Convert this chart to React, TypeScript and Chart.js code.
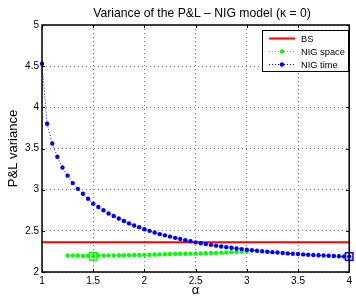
import React, { useEffect, useRef } from "react";
import { Chart, registerables } from "chart.js";
Chart.register(...registerables);

const titleText = "Variance of the P&L \u2013 NIG model (\u03ba = 0)";
const xLabel = "\u03b1";
const yLabel = "P&L variance";
const legendLabels = ["BS", "NIG space", "NIG time"];

const xTicks = [1, 1.5, 2, 2.5, 3, 3.5, 4];
const yTicks = [2, 2.5, 3, 3.5, 4, 4.5, 5];

const alphaTime = [
  1.0, 1.05, 1.1, 1.15, 1.2, 1.25, 1.3, 1.35, 1.4, 1.45, 1.5, 1.55, 1.6, 1.65, 1.7, 1.75,
  1.8, 1.85, 1.9, 1.95, 2.0, 2.05, 2.1, 2.15, 2.2, 2.25, 2.3, 2.35, 2.4, 2.45, 2.5, 2.55,
  2.6, 2.65, 2.7, 2.75, 2.8, 2.85, 2.9, 2.95, 3.0, 3.05, 3.1, 3.15, 3.2, 3.25, 3.3, 3.35,
  3.4, 3.45, 3.5, 3.55, 3.6, 3.65, 3.7, 3.75, 3.8, 3.85, 3.9, 3.95, 4.0,
];
const nigTime = [
  4.53, 3.8, 3.56, 3.4, 3.27, 3.17, 3.08, 3.01, 2.95, 2.89, 2.83, 2.79, 2.75, 2.71, 2.68, 2.65,
  2.62, 2.59, 2.565, 2.545, 2.52, 2.5, 2.48, 2.46, 2.445, 2.43, 2.415, 2.4, 2.385, 2.373, 2.36, 2.35,
  2.34, 2.33, 2.32, 2.31, 2.302, 2.294, 2.286, 2.278, 2.27, 2.264, 2.258, 2.252, 2.246, 2.241, 2.236, 2.231,
  2.226, 2.222, 2.218, 2.214, 2.21, 2.206, 2.203, 2.2, 2.197, 2.194, 2.191, 2.189, 2.187,
];

const alphaSpace = [
  1.25, 1.3, 1.35, 1.4, 1.45, 1.5, 1.55, 1.6, 1.65, 1.7, 1.75, 1.8, 1.85, 1.9, 1.95, 2.0,
  2.05, 2.1, 2.15, 2.2, 2.25, 2.3, 2.35, 2.4, 2.45, 2.5, 2.55, 2.6, 2.65, 2.7, 2.75, 2.8,
  2.85, 2.9, 2.95, 3.0,
];
const nigSpace = [
  2.2, 2.2, 2.2, 2.195, 2.198, 2.192, 2.2, 2.201, 2.202, 2.202, 2.203, 2.204, 2.205, 2.206, 2.207, 2.208,
  2.21, 2.212, 2.214, 2.216, 2.218, 2.22, 2.221, 2.222, 2.223, 2.224, 2.226, 2.228, 2.23, 2.232, 2.235, 2.238,
  2.241, 2.244, 2.247, 2.25,
];

const bsAlpha = [1, 4];
const bsVariance = [2.36, 2.36];

const spaceMinAlpha = [1.5];
const spaceMinValue = [2.192];
const timeMinAlpha = [4.0];
const timeMinValue = [2.187];

const FONT = "'Liberation Sans', Arial, Helvetica, sans-serif";
const RED = "#ff0000";
const GREEN = "#00ff00";
const BLUE = "#0000ff";

const pts = (xs: number[], ys: number[]) => xs.map((x, i) => ({ x, y: ys[i] }));

const framePlugin = {
  id: "frame",
  afterDraw(chart: any) {
    const { ctx, chartArea: a, scales } = chart;
    const x = scales.x;
    const y = scales.y;
    ctx.save();
    // title
    ctx.fillStyle = "#000";
    ctx.font = `12.2px ${FONT}`;
    ctx.textAlign = "center";
    ctx.textBaseline = "middle";
    ctx.fillText(titleText, 202, 14);

    ctx.strokeStyle = "#000";
    ctx.lineWidth = 1;
    ctx.beginPath();
    for (const t of xTicks) {
      const px = Math.round(x.getPixelForValue(t)) + 0.5;
      ctx.moveTo(px, a.bottom);
      ctx.lineTo(px, a.bottom - 3);
      ctx.moveTo(px, a.top);
      ctx.lineTo(px, a.top + 3);
    }
    for (const t of yTicks) {
      const py = Math.round(y.getPixelForValue(t)) + 0.5;
      ctx.moveTo(a.left, py);
      ctx.lineTo(a.left + 3, py);
      ctx.moveTo(a.right, py);
      ctx.lineTo(a.right - 3, py);
    }
    ctx.stroke();
    ctx.lineWidth = 1.5;
    ctx.strokeRect(a.left, a.top, a.right - a.left, a.bottom - a.top);

    // legend
    const lx = 262.5, ly = 30.5, lw = 86, lh = 41;
    ctx.fillStyle = "#fff";
    ctx.fillRect(lx, ly, lw, lh);
    ctx.lineWidth = 1;
    ctx.strokeStyle = "#000";
    ctx.strokeRect(lx, ly, lw, lh);
    const rows = [38.5, 51.5, 64.5];
    const colors = [RED, GREEN, BLUE];
    ctx.font = `9.3px ${FONT}`;
    ctx.textBaseline = "middle";
    ctx.textAlign = "left";
    rows.forEach((ry, i) => {
      ctx.save();
      ctx.strokeStyle = colors[i];
      if (i === 0) {
        ctx.lineWidth = 2;
        ctx.setLineDash([]);
      } else {
        ctx.lineWidth = 1;
        ctx.setLineDash([1, 2]);
      }
      ctx.beginPath();
      ctx.moveTo(269, ry);
      ctx.lineTo(295, ry);
      ctx.stroke();
      if (i > 0) {
        ctx.fillStyle = colors[i];
        ctx.beginPath();
        ctx.arc(282, ry, 2.2, 0, Math.PI * 2);
        ctx.fill();
      }
      ctx.restore();
      ctx.fillStyle = "#000";
      ctx.fillText(legendLabels[i], 301, ry + 0.5);
    });
    ctx.restore();
  },
};

export default function App() {
  const ref = useRef<HTMLCanvasElement | null>(null);
  useEffect(() => {
    if (!ref.current) return;
    const chart = new Chart(ref.current, {
      type: "line",
      data: {
        datasets: [
          {
            label: legendLabels[0],
            data: pts(bsAlpha, bsVariance),
            borderColor: RED,
            borderWidth: 2,
            pointRadius: 0,
            order: 4,
          },
          {
            label: legendLabels[1],
            data: pts(alphaSpace, nigSpace),
            borderColor: GREEN,
            borderWidth: 1,
            borderDash: [1, 2],
            pointRadius: 2.2,
            pointBackgroundColor: GREEN,
            pointBorderWidth: 0,
            order: 3,
          },
          {
            label: legendLabels[2],
            data: pts(alphaTime, nigTime),
            borderColor: BLUE,
            borderWidth: 1,
            borderDash: [1, 2],
            pointRadius: 2.2,
            pointBackgroundColor: BLUE,
            pointBorderWidth: 0,
            order: 2,
          },
          {
            label: "space min",
            data: pts(spaceMinAlpha, spaceMinValue),
            showLine: false,
            pointStyle: "rect",
            pointRadius: 5.3,
            pointBackgroundColor: "rgba(0,0,0,0)",
            pointBorderColor: GREEN,
            pointBorderWidth: 1.5,
            order: 1,
          },
          {
            label: "time min",
            data: pts(timeMinAlpha, timeMinValue),
            showLine: false,
            pointStyle: "rect",
            pointRadius: 5.3,
            pointBackgroundColor: "rgba(0,0,0,0)",
            pointBorderColor: BLUE,
            pointBorderWidth: 1.5,
            order: 1,
          },
        ] as any,
      },
      options: {
        animation: false,
        responsive: false,
        events: [],
        clip: false as any,
        layout: { padding: { left: 0, right: 2, top: 25, bottom: 0 } },
        plugins: {
          legend: { display: false },
          tooltip: { enabled: false },
          title: { display: false },
        },
        scales: {
          x: {
            type: "linear",
            min: 1,
            max: 4,
            afterFit(scale: any) {
              scale.height = 26;
              scale.paddingLeft = 0;
              scale.paddingRight = 0;
            },
            afterBuildTicks(scale: any) {
              scale.ticks = xTicks.map((v) => ({ value: v }));
            },
            ticks: {
              color: "#000",
              font: { family: FONT, size: 10 },
              padding: 3,
              maxRotation: 0,
              autoSkip: false,
              callback: (v: any) => String(v),
            },
            grid: { color: "#777", lineWidth: 1, drawTicks: false },
            border: { display: false, dash: [1, 3] },
            title: {
              display: true,
              text: xLabel,
              color: "#000",
              font: { family: FONT, size: 13 },
              padding: { top: 0, bottom: 0 },
            },
          },
          y: {
            type: "linear",
            min: 2,
            max: 5,
            afterFit(scale: any) {
              scale.width = 42;
              scale.paddingTop = 0;
              scale.paddingBottom = 0;
            },
            afterBuildTicks(scale: any) {
              scale.ticks = yTicks.map((v) => ({ value: v }));
            },
            ticks: {
              color: "#000",
              font: { family: FONT, size: 10 },
              padding: 3,
              autoSkip: false,
              callback: (v: any) => String(v),
            },
            grid: { color: "#777", lineWidth: 1, drawTicks: false },
            border: { display: false, dash: [1, 3] },
            title: {
              display: true,
              text: yLabel,
              color: "#000",
              font: { family: FONT, size: 13 },
              padding: { top: 6, bottom: 0 },
            },
          },
        },
      } as any,
      plugins: [framePlugin],
    });
    return () => chart.destroy();
  }, []);
  return (
    <div style={{ position: "fixed", left: 0, top: 0, width: 356, height: 298, background: "#fff" }}>
      <canvas ref={ref} width={356} height={298} style={{ display: "block" }} />
    </div>
  );
}
